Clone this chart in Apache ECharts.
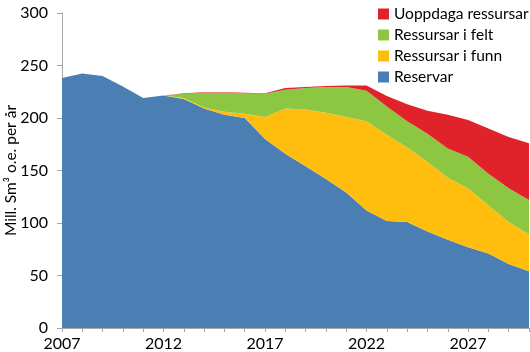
<!DOCTYPE html>
<html><head><meta charset="utf-8">
<script src="https://cdn.jsdelivr.net/npm/echarts@6/dist/echarts.min.js"></script>
<style>html,body{margin:0;padding:0;background:#fff}#c{width:530px;height:352px}</style>
</head><body><div id="c"></div>
<script>
var years = ['2007','2008','2009','2010','2011','2012','2013','2014','2015','2016','2017','2018','2019','2020','2021','2022','2023','2024','2025','2026','2027','2028','2029','2030'];
var reservar = [238,242.5,240,230,219,221.5,218,209,203,200,180,166,154,142,129,112,102,101,92,84,77,71,61,54];
var funn = [0,0,0,0,0,0,1,1,3,4,21,43,54,63,72,85,82,71,66,59,56,46,40,35];
var felt = [0,0,0,0,0,0,4,14,18,19.5,22,18,20.5,24.5,28.5,29,27,25,27,28,30,30,32,33];
var uoppdaga = [0,0,0,0,0,0,0.5,0.5,0.5,0.5,0.5,1.5,1,1,1.5,5,10,16,22,32,35,43,49,54];
var yTicks = [0,50,100,150,200,250,300];

var font = 'Lato, "Open Sans", sans-serif';
function area(name, data, color) {
  return {name: name, type: 'line', stack: 'total', data: data, symbol: 'none',
    lineStyle: {width: 0}, areaStyle: {color: color, opacity: 1}, itemStyle: {color: color}};
}
var chart = echarts.init(document.getElementById('c'));
chart.setOption({
  animation: false,
  grid: {left: 62, right: 1, top: 13, bottom: 24, containLabel: false, outerBoundsMode: 'none'},
  legend: {
    data: ['Uoppdaga ressursar','Ressursar i felt','Ressursar i funn','Reservar'],
    orient: 'vertical', left: 373, top: 1, itemWidth: 11, itemHeight: 11, itemGap: 5,
    icon: 'rect', textStyle: {fontFamily: font, fontSize: 15.5, color: '#000'}
  },
  xAxis: {
    type: 'category', data: years, boundaryGap: false,
    axisLine: {lineStyle: {color: '#a6a6a6'}},
    axisTick: {interval: 0, length: 4, lineStyle: {color: '#a6a6a6'}},
    axisLabel: {interval: 4, fontFamily: font, fontSize: 16, color: '#000', margin: 8}
  },
  yAxis: {
    type: 'value', min: yTicks[0], max: yTicks[yTicks.length-1], interval: 50,
    name: 'Mill. Sm³ o.e. per år', nameLocation: 'middle', nameGap: 43, nameMoveOverlap: false,
    nameTextStyle: {fontFamily: font, fontSize: 15.5, color: '#000'},
    axisLine: {show: true, lineStyle: {color: '#a6a6a6'}},
    axisTick: {show: true, length: 5, lineStyle: {color: '#a6a6a6'}},
    splitLine: {show: false},
    axisLabel: {fontFamily: font, fontSize: 16, color: '#000', margin: 14}
  },
  series: [
    area('Reservar', reservar, '#4B7FB4'),
    area('Ressursar i funn', funn, '#FFBE0E'),
    area('Ressursar i felt', felt, '#8DC641'),
    area('Uoppdaga ressursar', uoppdaga, '#E0232A')
  ]
});
</script></body></html>
